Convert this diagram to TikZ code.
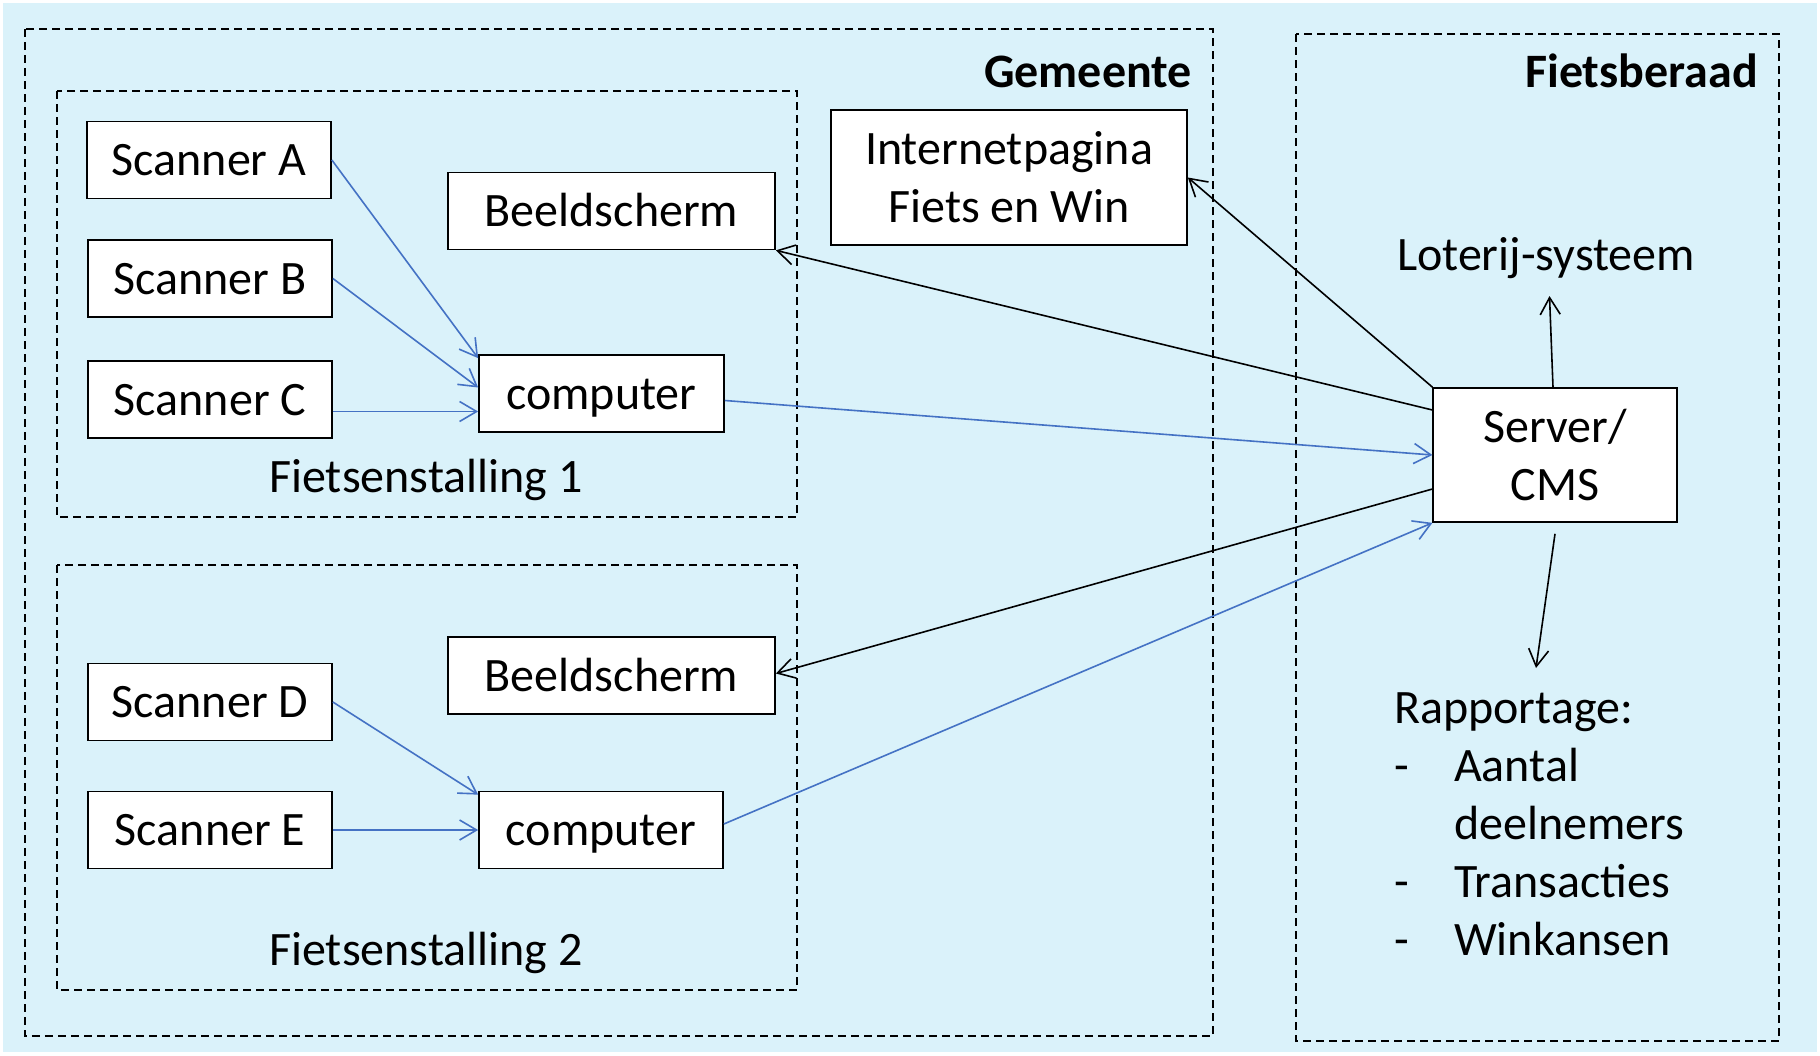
\documentclass[tikz,border=0pt]{standalone}
\usepackage{fontspec}
\setmainfont{Carlito}
\usepackage{xcolor}
\usepackage{tikz}
\usetikzlibrary{arrows.meta}
\usetikzlibrary{positioning}
\usetikzlibrary{calc}
\definecolor{achtergrond}{RGB}{218,242,250}
\definecolor{lijnblauw}{RGB}{68,114,196}
\tikzset{box/.style={draw, fill=white, line width=1.7pt, inner sep=0pt, minimum height=77},
  eenregel/.style={text height=31, text depth=0},
  tekst/.style={inner sep=0pt, anchor=base},
  groep/.style={line width=1.4pt, dash pattern=on 8pt off 5pt},
  blauw/.style={->, draw=lijnblauw, line width=1.6pt},
  zwart/.style={->, line width=1.6pt},
  >={Straight Barb[length=17pt,width=20pt]}}

\begin{document}
\begin{tikzpicture}[x=1pt,y=-1pt,font=\fontsize{48}{58}\selectfont]
%%
\useasboundingbox (0,0) rectangle (1820,1055);
  \fill[white] (0,0) rectangle (1820,1055);
  \fill[achtergrond] (3,3) rectangle (1817,1052);
%
  \draw[groep] (25,29) rectangle (1213,1036);
  \draw[groep] (1296,34) rectangle (1779,1041);
  \draw[groep] (57,91) rectangle (797,517);
  \draw[groep] (57,565) rectangle (797,990);
  \node (gemeente) at (1192,87.5) [tekst,anchor=base east] {\bfseries Gemeente};
  \node (fietsberaad) at (1758,87.5) [tekst,anchor=base east] {\bfseries Fietsberaad};
%
  \node (scan_A) at (209,160) [box,eenregel,minimum width=244] {Scanner A};
  \node (scan_B) at (210,278.5) [box,eenregel,minimum width=244] {Scanner B};
  \node (scan_C) at (210,399.5) [box,eenregel,minimum width=244] {Scanner C};
  \node (scherm_1) at (611.5,211) [box,eenregel,minimum width=327] {Beeldscherm};
  \node (comp_1) at (601.5,393.5) [box,eenregel,minimum width=245] {computer};
  \node (stalling_1) at (426,492.5) [tekst] {Fietsenstalling 1};
  \node (scan_D) at (210,702) [box,eenregel,minimum width=244] {Scanner D};
  \node (scan_E) at (210,830) [box,eenregel,minimum width=244] {Scanner E};
  \node (scherm_2) at (611.5,675.5) [box,eenregel,minimum width=327] {Beeldscherm};
  \node (comp_2) at (601,830) [box,eenregel,minimum width=244] {computer};
  \node (stalling_2) at (426,965) [tekst] {Fietsenstalling 2};
  \node (web) at (1009,177.5) [box,align=center,minimum width=356,minimum height=135] {Internetpagina\\Fiets en Win};
  \node (server) at (1555,455) [box,align=center,minimum width=243.5,minimum height=134] {Server/\\CMS};
  \node (loterij) at (1546,270.5) [tekst] {Loterij-systeem};
  \node (rapport) at (1394,955.5) [tekst,anchor=base west,align=left] {Rapportage:\\\makebox[60pt][l]{-}Aantal\\\makebox[60pt][l]{}deelnemers\\\makebox[60pt][l]{-}Transacties\\\makebox[60pt][l]{-}Winkansen};
  \coordinate (lot_in) at (1549.5,296);
  \coordinate (rap_in) at (1536,668);
%
  \draw [blauw] (scan_A.east) -- ([yshift=-4pt]comp_1.north west);
  \draw [blauw] (scan_B.east) -- ([yshift=6pt]comp_1.west);
  \draw [blauw] ([yshift=-12pt]scan_C.east) -- ([yshift=-18pt]comp_1.west);
  \draw [blauw] (scan_D.east) -- ([yshift=-4pt]comp_2.north west);
  \draw [blauw] (scan_E.east) -- (comp_2.west);
  \draw [blauw] ([yshift=-7pt]comp_1.east) -- (server.west);
  \draw [blauw] ([yshift=6pt]comp_2.east) -- (server.south west);
  \draw [zwart] ([yshift=45pt]server.west) -- (scherm_1.south east);
  \draw [zwart] ([yshift=-34pt]server.west) -- ([yshift=2pt]scherm_2.east);
  \draw [zwart] (server.north west) -- (web.east);
  \draw [zwart] ([xshift=-2pt]server.north) -- (lot_in);
  \draw [zwart] ([yshift=-11pt]server.south) -- (rap_in);
%
\end{tikzpicture}
\end{document}
